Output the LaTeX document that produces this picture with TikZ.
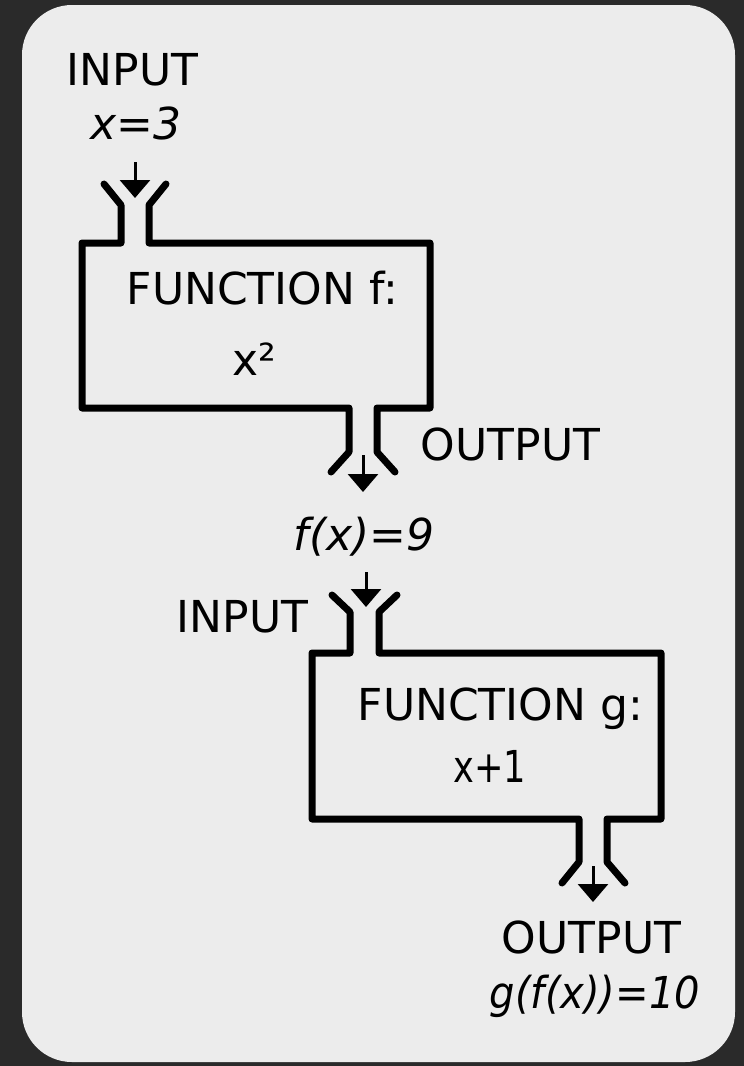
\documentclass[tikz,border=0pt]{standalone}
\usepackage{fontspec}
\setmainfont{DejaVu Sans}
\usetikzlibrary{arrows.meta}
\definecolor{bgdark}{HTML}{2A2A2A}
\definecolor{panel}{HTML}{ECECEC}
\tikzset{
  lbl/.style={anchor=base, inner sep=0pt, font=\fontsize{44}{50}\selectfont},
  ilbl/.style={lbl, font=\fontsize{44}{50}\selectfont\itshape},
  funnel/.style={line width=7pt, line join=round, line cap=round},
  flow/.style={line width=3pt, -{Triangle[width=30pt,length=18pt]}}
}
\begin{document}
\begin{tikzpicture}[x=1pt,y=-1pt]
\useasboundingbox (0,0) rectangle (744,1066);
\fill[bgdark] (0,0) rectangle (744,1066);
\fill[panel, rounded corners=50pt] (22,5) rectangle (735,1062);

% texts
\node[lbl] (in1) at (132.5,85) {INPUT};
\node[ilbl] (x3) at (136,139) {x=3};
\node[lbl] (ff) at (262.5,304) {FUNCTION f:};
\node[lbl] (fx2) at (254,375) {x²};
\node[lbl] (out1) at (510.5,460) {OUTPUT};
\node[ilbl] (fx9) at (364,550) {f(x)=9};
\node[lbl] (in2) at (242.5,632) {INPUT};
\node[lbl] (fg) at (500.5,720) {FUNCTION g:};
\node[lbl] (gx1) at (490,782) {\scalebox{0.8}[1]{x+1}};
\node[lbl] (out2) at (591.5,953) {OUTPUT};
\node[ilbl] (g10) at (595,1008) {\scalebox{0.91}[1]{g(f(x))=10}};

% box f
\draw[funnel] (104,184) -- (121,205) -- (121,243) -- (82,243) -- (82,408) -- (349,408) -- (349,452) -- (331,472);
\draw[funnel] (166,184) -- (149,205) -- (149,243) -- (430,243) -- (430,408) -- (377,408) -- (377,452) -- (395,472);

% box g
\draw[funnel] (332,595) -- (350,612) -- (350,653) -- (312,653) -- (312,819) -- (579,819) -- (579,862) -- (562,883);
\draw[funnel] (397,595) -- (379,612) -- (379,653) -- (661,653) -- (661,819) -- (607,819) -- (607,862) -- (625,883);

% arrows
\coordinate (a1s) at (135,162);
\coordinate (a1e) at (135,198);
\coordinate (a2s) at (363,455);
\coordinate (a2e) at (363,492);
\coordinate (a3s) at (366,572);
\coordinate (a3e) at (366,607);
\coordinate (a4s) at (593,866);
\coordinate (a4e) at (593,902);
\draw[flow] (a1s) -- (a1e);
\draw[flow] (a2s) -- (a2e);
\draw[flow] (a3s) -- (a3e);
\draw[flow] (a4s) -- (a4e);
\end{tikzpicture}
\end{document}
